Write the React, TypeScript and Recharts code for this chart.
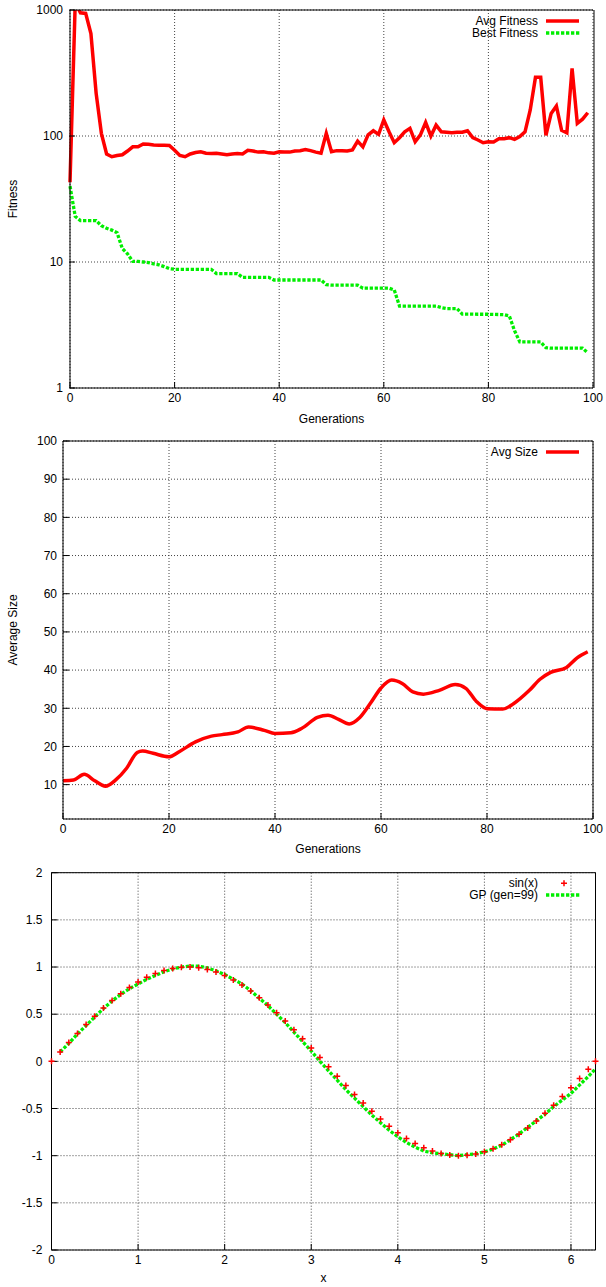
import React from 'react';
import { LineChart, ComposedChart, Line, Scatter, XAxis, YAxis, CartesianGrid } from 'recharts';

const FONT = '"Liberation Sans", Arial, Helvetica, sans-serif';
const RED = '#ff0000';
const GREEN = '#00ee00';
const GRID = '#444';

// ---- chart 1: fitness per generation (log scale)
const generations = Array.from({ length: 100 }, (_, i) => i);

const avgFitness = [
  43, 1150, 950, 940, 650, 218, 105, 72, 68.5, 70,
  71, 76, 82, 82, 86.5, 86, 85, 84.5, 84.5, 84,
  77, 70, 68.5, 72, 74, 75, 73, 72.5, 73, 72,
  71, 72, 72.5, 72, 77, 76, 74.5, 75, 73.5, 73,
  75, 74.5, 74.5, 76, 76.5, 78, 76.5, 74.5, 73, 105,
  75, 76.5, 76.5, 76, 77.5, 91, 82, 102, 110, 103,
  134, 108, 88.5, 97, 108, 115, 90, 102, 128, 100,
  122, 108, 107, 106, 107, 107, 110, 97, 93, 88.5,
  90, 89.5, 95, 95, 97, 94, 99, 108, 161, 292,
  292, 101, 151, 173, 111, 106, 344, 126, 136, 153,
];

const bestFitness = [
  40, 23, 21.3, 21.3, 21.3, 21.3, 19.4, 18.5, 17.9, 17.1,
  12.8, 11.6, 10.1, 10.1, 10, 9.9, 9.65, 9.5, 9.2, 8.85,
  8.75, 8.75, 8.75, 8.75, 8.75, 8.75, 8.75, 8.75, 8.1, 8.1,
  8.1, 8.1, 8.1, 7.55, 7.55, 7.55, 7.55, 7.55, 7.55, 7.2,
  7.2, 7.2, 7.2, 7.2, 7.2, 7.2, 7.2, 7.2, 7.2, 6.6,
  6.55, 6.55, 6.55, 6.55, 6.55, 6.55, 6.2, 6.2, 6.2, 6.2,
  6.2, 6.2, 6.0, 4.47, 4.47, 4.47, 4.47, 4.47, 4.47, 4.47,
  4.47, 4.35, 4.27, 4.27, 4.27, 3.86, 3.86, 3.86, 3.85, 3.85,
  3.85, 3.84, 3.83, 3.82, 3.73, 2.85, 2.32, 2.32, 2.32, 2.32,
  2.32, 2.09, 2.07, 2.07, 2.07, 2.07, 2.07, 2.07, 2.07, 1.9,
];

const fitnessMajor = [1, 10, 100, 1000];
const fitnessMinor = [2, 3, 4, 5, 6, 7, 8, 9, 20, 30, 40, 50, 60, 70, 80, 90, 200, 300, 400, 500, 600, 700, 800, 900];
const genTicks = [0, 20, 40, 60, 80, 100];

// ---- chart 2: average program size
const sizeGens = [0, 2, 4, 6, 8, 10, 12, 14, 15, 17, 20, 22, 25, 28, 30, 33, 35, 38, 40, 43, 45, 48, 50, 52, 54, 56, 58, 60, 62, 64, 66, 68, 71, 74, 76, 78, 80, 83, 85, 88, 90, 92, 95, 97, 99];
const avgSize = [11.0, 11.2, 12.7, 11.0, 9.6, 11.3, 14.3, 18.4, 18.8, 18.2, 17.3, 18.7, 21.2, 22.7, 23.1, 23.8, 25.1, 24.2, 23.4, 23.6, 24.7, 27.6, 28.2, 27.1, 25.9, 27.6, 31.3, 35.3, 37.4, 36.5, 34.3, 33.7, 34.7, 36.2, 35.2, 31.8, 29.9, 29.8, 31.2, 34.7, 37.6, 39.4, 40.7, 43.2, 44.8];
const sizeTicks = [10, 20, 30, 40, 50, 60, 70, 80, 90, 100];

// ---- chart 3: sin(x) vs best GP individual
const sinX = [0, 0.1, 0.2, 0.3, 0.4, 0.5, 0.6, 0.7, 0.8, 0.9, 1.0, 1.1, 1.2, 1.3, 1.4, 1.5, 1.6, 1.7, 1.8, 1.9, 2.0, 2.1, 2.2, 2.3, 2.4, 2.5, 2.6, 2.7, 2.8, 2.9, 3.0, 3.1, 3.2, 3.3, 3.4, 3.5, 3.6, 3.7, 3.8, 3.9, 4.0, 4.1, 4.2, 4.3, 4.4, 4.5, 4.6, 4.7, 4.8, 4.9, 5.0, 5.1, 5.2, 5.3, 5.4, 5.5, 5.6, 5.7, 5.8, 5.9, 6.0, 6.1, 6.2, 6.2832];
const sinY = [0, 0.0998, 0.1987, 0.2955, 0.3894, 0.4794, 0.5646, 0.6442, 0.7174, 0.7833, 0.8415, 0.8912, 0.932, 0.9636, 0.9854, 0.9975, 0.9996, 0.9917, 0.9738, 0.9463, 0.9093, 0.8632, 0.8085, 0.7457, 0.6755, 0.5985, 0.5155, 0.4274, 0.335, 0.2392, 0.1411, 0.0416, -0.0584, -0.1577, -0.2555, -0.3508, -0.4425, -0.5298, -0.6119, -0.6878, -0.7568, -0.8183, -0.8716, -0.9162, -0.9516, -0.9775, -0.9937, -0.9999, -0.9962, -0.9825, -0.9589, -0.9258, -0.8835, -0.8323, -0.7728, -0.7055, -0.6313, -0.5507, -0.4646, -0.3739, -0.2794, -0.1822, -0.0831, 0];
const gpX = sinX.slice(1);
const gpY = [0.10, 0.19, 0.29, 0.38, 0.47, 0.56, 0.64, 0.71, 0.77, 0.82, 0.87, 0.91, 0.95, 0.98, 1.0, 1.01, 1.01, 0.99, 0.96, 0.92, 0.87, 0.82, 0.75, 0.67, 0.59, 0.5, 0.41, 0.31, 0.21, 0.11, 0.0, -0.1, -0.2, -0.3, -0.39, -0.48, -0.57, -0.65, -0.73, -0.8, -0.86, -0.91, -0.95, -0.97, -0.98, -0.99, -1.0, -0.99, -0.98, -0.96, -0.93, -0.89, -0.83, -0.77, -0.7, -0.63, -0.56, -0.48, -0.41, -0.34, -0.25, -0.16, -0.08];
const xTicks = [0, 1, 2, 3, 4, 5, 6];
const yTicks = [-2, -1.5, -1, -0.5, 0, 0.5, 1, 1.5, 2];

const fitnessData = generations.map((g, i) => ({ gen: g, avg: avgFitness[i], best: bestFitness[i] }));
const sizeData = sizeGens.map((g, i) => ({ gen: g, size: avgSize[i] }));
const sinData = sinX.map((x, i) => ({ x, y: sinY[i] }));
const gpData = gpX.map((x, i) => ({ x, y: gpY[i] }));

const tickStyle = { fontSize: 12, fontFamily: FONT, fill: '#000' };
const labelStyle = { fontSize: 12, fontFamily: FONT, fill: '#000' };
const black = { stroke: '#000' };

const PlusShape = (props: any) => {
  const { cx, cy } = props;
  if (cx == null || cy == null) return null;
  return <path d={`M${cx - 3},${cy}H${cx + 3}M${cx},${cy - 3}V${cy + 3}`} stroke={RED} strokeWidth={1.5} fill="none" />;
};

type Row = { text: string; y: number; kind: 'line' | 'dots' | 'plus'; color: string };

const LegendOverlay = ({ rows }: { rows: Row[] }) => (
  <svg width={606} height={50} style={{ position: 'absolute', left: 0, top: 0, pointerEvents: 'none' }}>
    {rows.map((r) => (
      <g key={r.text}>
        <text x={538} y={r.y + 4} textAnchor="end" fontSize={12} fontFamily={FONT} fill="#000">{r.text}</text>
        {r.kind === 'line' && <line x1={546} x2={579} y1={r.y} y2={r.y} stroke={r.color} strokeWidth={3.5} />}
        {r.kind === 'dots' && <line x1={546} x2={580} y1={r.y} y2={r.y} stroke={r.color} strokeWidth={3.3} strokeDasharray="3.3 1.7" />}
        {r.kind === 'plus' && <path d={`M561,${r.y}H567M564,${r.y - 3}V${r.y + 3}`} stroke={r.color} strokeWidth={1.5} />}
      </g>
    ))}
  </svg>
);

const FitnessChart = () => (
  <div style={{ position: 'absolute', left: 0, top: 0, width: 606, height: 430 }}>
    <LineChart width={606} height={430} data={fitnessData} margin={{ top: 9, right: 11, bottom: 6, left: 10 }}>
      <CartesianGrid xAxisId="b" yAxisId="y" stroke={GRID} strokeDasharray="1 2" />
      <XAxis xAxisId="b" dataKey="gen" type="number" domain={[0, 100]} ticks={genTicks} interval={0}
        height={36} tickSize={-6} tickMargin={11} tick={tickStyle} axisLine={black} tickLine={black}
        label={{ value: 'Generations', position: 'insideBottom', offset: 1, style: labelStyle }} />
      <XAxis xAxisId="t" orientation="top" dataKey="gen" type="number" domain={[0, 100]} ticks={genTicks} interval={0}
        height={1} tickSize={-6} tick={false} axisLine={black} tickLine={black} />
      <YAxis yAxisId="mL" type="number" scale="log" domain={[1, 1000]} allowDataOverflow ticks={fitnessMinor} interval={0}
        width={1} tickSize={-3} tick={false} axisLine={black} tickLine={black} />
      <YAxis yAxisId="y" type="number" scale="log" domain={[1, 1000]} allowDataOverflow ticks={fitnessMajor} interval={0}
        width={59} tickSize={-6} tickMargin={12} tick={tickStyle} axisLine={false} tickLine={black}
        label={{ value: 'Fitness', angle: -90, position: 'insideLeft', offset: 3, style: { ...labelStyle, textAnchor: 'middle' } }} />
      <YAxis yAxisId="r" orientation="right" type="number" scale="log" domain={[1, 1000]} allowDataOverflow ticks={fitnessMajor} interval={0}
        width={1} tickSize={-6} tick={false} axisLine={black} tickLine={black} />
      <YAxis yAxisId="mR" orientation="right" type="number" scale="log" domain={[1, 1000]} allowDataOverflow ticks={fitnessMinor} interval={0}
        width={1} tickSize={-3} tick={false} axisLine={false} tickLine={black} />
      <Line xAxisId="b" yAxisId="y" type="linear" dataKey="avg" stroke={RED} strokeWidth={3.5} dot={false} isAnimationActive={false} />
      <Line xAxisId="b" yAxisId="y" type="linear" dataKey="best" stroke={GREEN} strokeWidth={3.3} strokeDasharray="3.3 1.7" dot={false} isAnimationActive={false} />
    </LineChart>
    <LegendOverlay rows={[
      { text: 'Avg Fitness', y: 21, kind: 'line', color: RED },
      { text: 'Best Fitness', y: 33, kind: 'dots', color: GREEN },
    ]} />
  </div>
);

const SizeChart = () => (
  <div style={{ position: 'absolute', left: 0, top: 430, width: 606, height: 430 }}>
    <LineChart width={606} height={430} data={sizeData} margin={{ top: 10, right: 12, bottom: 5, left: 10 }}>
      <CartesianGrid xAxisId="b" yAxisId="y" stroke={GRID} strokeDasharray="1 2" />
      <XAxis xAxisId="b" dataKey="gen" type="number" domain={[0, 100]} ticks={genTicks} interval={0}
        height={36} tickSize={-6} tickMargin={11} tick={tickStyle} axisLine={black} tickLine={black}
        label={{ value: 'Generations', position: 'insideBottom', offset: 2, style: labelStyle }} />
      <XAxis xAxisId="t" orientation="top" dataKey="gen" type="number" domain={[0, 100]} ticks={genTicks} interval={0}
        height={1} tickSize={-6} tick={false} axisLine={black} tickLine={black} />
      <YAxis yAxisId="y" type="number" domain={[1, 100]} allowDataOverflow ticks={sizeTicks} interval={0}
        width={53} tickSize={-6} tickMargin={12} tick={tickStyle} axisLine={black} tickLine={black}
        label={{ value: 'Average Size', angle: -90, position: 'insideLeft', offset: 3, style: { ...labelStyle, textAnchor: 'middle' } }} />
      <YAxis yAxisId="r" orientation="right" type="number" domain={[1, 100]} allowDataOverflow ticks={sizeTicks} interval={0}
        width={1} tickSize={-6} tick={false} axisLine={black} tickLine={black} />
      <Line xAxisId="b" yAxisId="y" type="monotone" dataKey="size" stroke={RED} strokeWidth={3.5} dot={false} isAnimationActive={false} />
    </LineChart>
    <LegendOverlay rows={[{ text: 'Avg Size', y: 22, kind: 'line', color: RED }]} />
  </div>
);

const SinChart = () => (
  <div style={{ position: 'absolute', left: 0, top: 860, width: 606, height: 427 }}>
    <ComposedChart width={606} height={427} margin={{ top: 11.7, right: 9.5, bottom: 5, left: 9.5 }}>
      <CartesianGrid xAxisId="b" yAxisId="y" stroke={GRID} strokeDasharray="1 2" />
      <XAxis xAxisId="b" dataKey="x" type="number" domain={[0, 6.2832]} ticks={xTicks} interval={0}
        height={32} tickSize={-6} tickMargin={11} tick={tickStyle} axisLine={black} tickLine={black}
        label={{ value: 'x', position: 'insideBottom', offset: 0, style: labelStyle }} />
      <XAxis xAxisId="t" orientation="top" dataKey="x" type="number" domain={[0, 6.2832]} ticks={xTicks} interval={0}
        height={1} tickSize={-6} tick={false} axisLine={black} tickLine={black} />
      <YAxis yAxisId="y" dataKey="y" type="number" domain={[-2, 2]} ticks={yTicks} interval={0}
        width={42} tickSize={-6} tickMargin={15} tick={tickStyle} axisLine={black} tickLine={black} />
      <YAxis yAxisId="r" orientation="right" dataKey="y" type="number" domain={[-2, 2]} ticks={yTicks} interval={0}
        width={1} tickSize={-6} tick={false} axisLine={black} tickLine={black} />
      <Scatter xAxisId="b" yAxisId="y" data={sinData} dataKey="y" fill={RED} shape={PlusShape} isAnimationActive={false} />
      <Line xAxisId="b" yAxisId="y" data={gpData} type="linear" dataKey="y" stroke={GREEN} strokeWidth={3.3} strokeDasharray="3.3 1.7" dot={false} isAnimationActive={false} />
    </ComposedChart>
    <LegendOverlay rows={[
      { text: 'sin(x)', y: 23.3, kind: 'plus', color: RED },
      { text: 'GP (gen=99)', y: 35, kind: 'dots', color: GREEN },
    ]} />
  </div>
);

export default function App() {
  return (
    <div style={{ position: 'absolute', left: 0, top: 0, width: 606, height: 1287, background: '#fff' }}>
      <FitnessChart />
      <SizeChart />
      <SinChart />
    </div>
  );
}
